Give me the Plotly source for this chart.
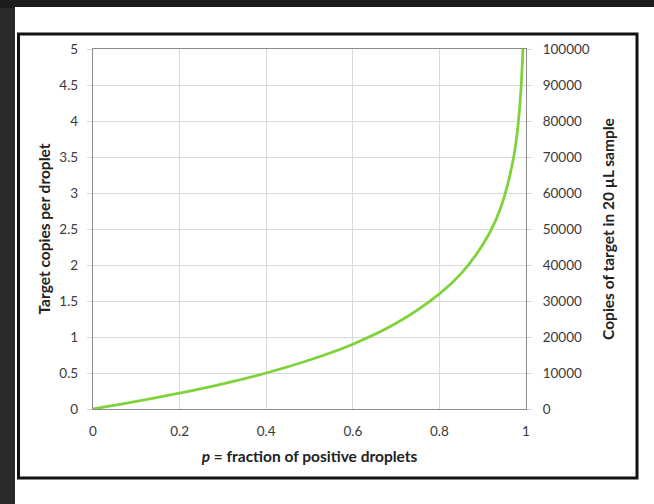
import plotly.graph_objects as go

# Data
p_fraction = [0, 0.1, 0.2, 0.3, 0.4, 0.5, 0.6, 0.7, 0.8, 0.85, 0.9, 0.93, 0.95, 0.97, 0.98, 0.988, 0.993]
copies_per_droplet = [0, 0.105, 0.22, 0.35, 0.5, 0.68, 0.9, 1.19, 1.6, 1.88, 2.28, 2.62, 2.95, 3.45, 3.85, 4.4, 5.0]

x_ticks = [0, 0.2, 0.4, 0.6, 0.8, 1]
x_tick_text = ["0", "0.2", "0.4", "0.6", "0.8", "1"]
y_ticks = [0, 0.5, 1, 1.5, 2, 2.5, 3, 3.5, 4, 4.5, 5]
y_tick_text = ["0", "0.5", "1", "1.5", "2", "2.5", "3", "3.5", "4", "4.5", "5"]
y2_range = [0, 100000]
y2_step = 10000

W, H = 654, 504
L, R, T, B = 93, 526, 49, 409
pw, ph = R - L, B - T

def px(xp):
    return (xp - L) / pw

def py(yp):
    return (B - yp) / ph

FONT = "Lato, 'Open Sans', sans-serif"
TICK_COLOR = "#3a3a3a"
TICK_SIZE = 13.5
TITLE_SIZE = 15.5

fig = go.Figure()
fig.add_trace(go.Scatter(
    x=p_fraction, y=copies_per_droplet, mode="lines",
    line=dict(color="#80d23c", width=2.8, shape="spline", smoothing=1.0),
    showlegend=False, hoverinfo="skip",
))
# invisible trace to carry the secondary axis
fig.add_trace(go.Scatter(
    x=[x_ticks[0], x_ticks[-1]], y=y2_range, yaxis="y2", mode="lines",
    line=dict(width=0, color="rgba(0,0,0,0)"), showlegend=False, hoverinfo="skip",
))

axis_common = dict(
    showgrid=True, gridcolor="#d9d9d9", gridwidth=1,
    showline=True, linecolor="#8c8c8c", linewidth=1.2,
    zeroline=False,
    tickfont=dict(family=FONT, size=TICK_SIZE, color=TICK_COLOR),
)

fig.update_layout(
    width=W, height=H,
    margin=dict(l=L, r=W - R, t=T, b=H - B),
    paper_bgcolor="#2a2a2a",
    plot_bgcolor="white",
    xaxis=dict(
        **axis_common, range=[0, 1], tickmode="array", tickvals=x_ticks, ticktext=x_tick_text,
        mirror=True, ticks="", ticklabelstandoff=10,
        title=dict(text="<b><i>p</i> = fraction of positive droplets</b>",
                   font=dict(family=FONT, size=TITLE_SIZE, color="#222"), standoff=12),
    ),
    yaxis=dict(
        **axis_common, range=[0, 5], tickmode="array", tickvals=y_ticks, ticktext=y_tick_text,
        mirror=True, ticks="outside", ticklen=5, tickcolor="#d9d9d9", ticklabelstandoff=6,
        title=dict(text="<b>Target copies per droplet</b>",
                   font=dict(family=FONT, size=TITLE_SIZE, color="#222"), standoff=4),
    ),
    yaxis2=dict(
        overlaying="y", side="right", anchor="x", range=y2_range, dtick=y2_step,
        tick0=0, showgrid=False, zeroline=False, showline=False,
        ticks="outside", ticklen=5, tickcolor="#d9d9d9", ticklabelstandoff=8,
        tickfont=dict(family=FONT, size=TICK_SIZE, color=TICK_COLOR),
        tickformat="d",
        title=dict(text="<b>Copies of target in 20 µL sample</b>",
                   font=dict(family=FONT, size=TITLE_SIZE, color="#222"), standoff=14),
    ),
    shapes=[
        dict(type="rect", xref="paper", yref="paper", x0=px(0), x1=px(W), y0=py(0), y1=py(8),
             fillcolor="#1c1c1c", line=dict(width=0), layer="below"),
        dict(type="rect", xref="paper", yref="paper", x0=px(15), x1=px(W + 2), y0=py(7), y1=py(H + 2),
             fillcolor="white", line=dict(width=0), layer="below"),
        dict(type="rect", xref="paper", yref="paper", x0=px(18.5), x1=px(637), y0=py(34), y1=py(478),
             fillcolor="rgba(0,0,0,0)", line=dict(color="#111", width=3), layer="below"),
    ],
)

fig.write_html("out.html")
